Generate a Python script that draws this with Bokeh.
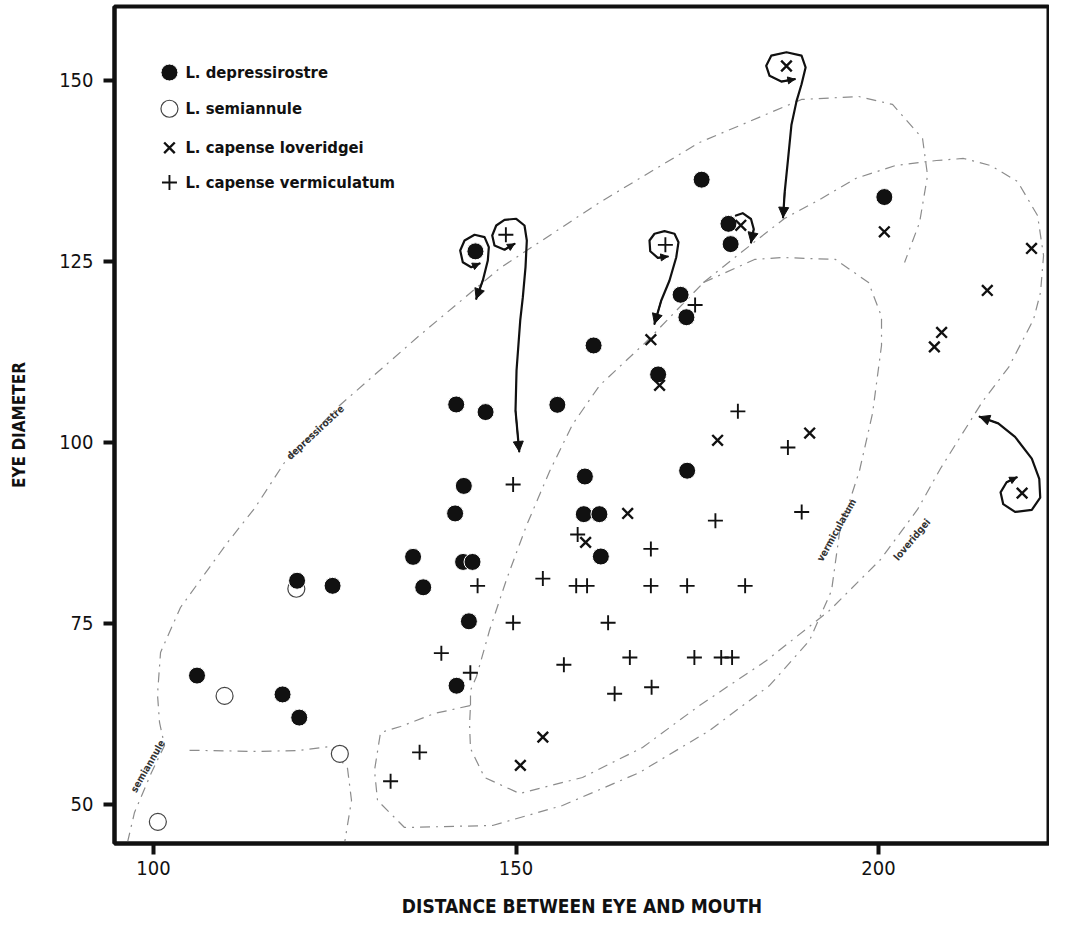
from bokeh.plotting import figure
from bokeh.models import Range1d, FixedTicker, Arrow, NormalHead
from bokeh.embed import file_html
from bokeh.resources import INLINE
from bokeh.core.properties import value

# ---------------- data ----------------
depressirostre_x = [106.0, 117.8, 120.1, 119.8, 124.7, 135.8, 137.2, 141.75, 145.8, 155.7,
                    160.7, 142.8, 141.6, 159.35, 161.5, 161.7, 142.7, 144.0, 143.5, 141.8,
                    159.5, 173.6, 169.6, 173.5, 172.7, 175.6, 179.3, 179.6, 200.8, 144.4]
depressirostre_y = [67.8, 65.2, 62.0, 80.9, 80.2, 84.2, 80.0, 105.25, 104.2, 105.2,
                    113.4, 94.0, 90.2, 90.1, 90.1, 84.25, 83.5, 83.5, 75.3, 66.4,
                    95.3, 96.1, 109.4, 117.3, 120.4, 136.3, 130.2, 127.4, 133.9, 126.4]

semiannule_x = [100.6, 109.8, 125.7, 119.7]
semiannule_y = [47.6, 65.0, 57.0, 79.8]

loveridgei_x = [153.7, 150.6, 159.6, 165.4, 169.8, 168.6, 177.8, 190.5, 181.0, 187.3,
                200.8, 208.7, 207.7, 215.0, 221.1, 219.8]
loveridgei_y = [59.3, 55.4, 86.2, 90.2, 107.9, 114.2, 100.3, 101.3, 130.0, 152.0,
                129.1, 115.2, 113.2, 121.0, 126.8, 93.0]

vermiculatum_x = [132.7, 136.7, 139.7, 143.7, 144.7, 149.6, 149.6, 153.7, 156.6, 158.5,
                  158.3, 159.8, 162.7, 163.6, 165.7, 168.6, 168.6, 168.7, 173.6, 174.6,
                  178.3, 179.8, 177.5, 181.6, 180.6, 187.5, 189.4, 174.7, 148.6, 170.6]
vermiculatum_y = [53.2, 57.2, 70.9, 68.2, 80.2, 94.2, 75.1, 81.2, 69.3, 87.3,
                  80.2, 80.2, 75.1, 65.3, 70.3, 85.3, 80.2, 66.2, 80.2, 70.3,
                  70.3, 70.3, 89.2, 80.2, 104.3, 99.3, 90.4, 119.0, 128.7, 127.3]

series_names = ["L. depressirostre", "L. semiannule", "L. capense loveridgei",
                "L. capense vermiculatum"]
x_ticks = [100, 150, 200]
y_ticks = [50, 75, 100, 125, 150]

# ---------------- hand-drawn enclosure outlines (data units) ----------------
outline_left_x = [96.41, 97.38, 99.72, 101.52, 100.83, 100.55, 100.97, 103.72, 110.21, 113.93,
                  118.07, 125.66, 136.69, 147.72, 161.52, 175.31, 189.38, 197.24, 201.93,
                  206.07, 206.76, 205.66, 203.59]
outline_left_y = [44.75, 48.90, 54.42, 58.15, 61.33, 65.19, 71.00, 77.21, 86.19, 90.88,
                  97.24, 105.11, 114.78, 124.03, 133.15, 141.44, 147.38, 147.79, 146.69,
                  141.99, 136.88, 130.39, 124.86]
outline_semi_x = [104.97, 107.03, 114.34, 120.14, 124.28, 126.76, 127.31, 126.34]
outline_semi_y = [57.46, 57.46, 57.32, 57.46, 58.01, 54.97, 50.55, 44.61]
outline_shared_x = [143.72, 143.72, 144.55, 146.34, 148.69, 151.45, 154.62, 157.79, 161.52,
                    168.00, 175.86]
outline_shared_y = [63.67, 65.75, 67.68, 74.03, 81.08, 88.54, 95.99, 102.49, 107.87,
                    113.95, 122.10]
outline_verm_x = [175.86, 182.90, 186.76, 194.07, 198.62, 200.41, 200.41, 199.17, 197.38,
                  194.62, 193.52, 190.48, 184.97, 176.69, 167.03, 156.41, 146.76, 134.62,
                  130.90, 130.48, 131.31, 134.07, 138.76, 143.72]
outline_verm_y = [122.10, 125.28, 125.55, 125.28, 122.10, 117.40, 113.40, 104.01, 96.13,
                  87.57, 79.56, 72.65, 66.44, 60.22, 54.42, 49.86, 47.10, 46.82,
                  50.55, 54.70, 59.94, 60.77, 62.57, 63.67]
outline_lov_x = [175.86, 183.31, 187.03, 192.14, 196.83, 202.34, 208.00, 211.72, 215.45,
                 219.17, 221.93, 222.76, 222.34, 221.38, 217.93, 214.34, 208.55, 205.38,
                 200.28, 193.24, 184.55, 175.31, 167.45, 159.17, 150.48, 145.66, 143.72,
                 143.59, 143.72]
outline_lov_y = [122.10, 128.04, 130.94, 133.70, 136.46, 138.26, 138.95, 139.23, 138.26,
                 136.05, 131.35, 125.83, 120.72, 116.99, 110.36, 105.66, 96.41, 90.75,
                 83.84, 76.80, 69.89, 63.67, 57.87, 53.73, 51.52, 53.73, 57.73,
                 61.05, 63.67]

outline_label_text = ["semiannule", "depressirostre", "vermiculatum", "loveridgei"]
outline_label_x = [99.2, 122.3, 194.2, 204.6]
outline_label_y = [55.3, 101.4, 87.9, 86.6]
outline_label_angle = [60, 43, 61, 50]

# ---------------- circled specimens with arrows (data units) ----------------
loops = [
    # circled dot
    ([144.97, 143.82, 142.66, 142.30, 142.90, 144.28, 145.66, 146.25, 146.11, 145.42, 144.51],
     [124.72, 124.21, 124.90, 126.52, 127.90, 128.69, 128.36, 126.98, 125.14, 122.38, 119.85], True),
    # circled plus (left)
    ([149.79, 148.41, 147.03, 146.72, 147.27, 148.41, 150.03, 151.17, 151.49, 151.31, 150.94,
      150.58, 150.07, 149.93, 150.44],
     [127.44, 126.62, 127.21, 128.59, 129.97, 130.76, 130.90, 129.97, 127.90, 124.21, 120.07,
      116.85, 109.94, 104.42, 98.76], True),
    # circled plus (middle)
    ([170.94, 169.56, 168.51, 168.41, 169.10, 170.48, 171.86, 172.41, 172.10, 171.17, 170.03, 169.10],
     [125.69, 125.51, 126.42, 127.90, 128.83, 129.19, 128.83, 127.67, 125.59, 122.38, 119.61, 116.39], True),
    # small curl near x
    ([180.33, 181.26, 182.41, 182.79, 182.41],
     [131.34, 131.67, 130.87, 129.47, 127.62], False),
    # circled x (top)
    ([188.46, 186.59, 184.97, 184.51, 185.20, 187.30, 189.38, 189.94, 189.38, 188.69, 187.99,
      187.53, 187.06, 186.83],
     [150.18, 149.85, 150.64, 152.03, 153.43, 153.90, 153.43, 151.81, 149.48, 147.15, 143.90,
      139.25, 134.60, 131.10], True),
    # circled x (right)
    ([219.06, 217.66, 216.83, 217.20, 218.83, 221.14, 222.30, 222.17, 221.14, 218.83, 216.51, 213.95],
     [95.19, 94.50, 93.11, 91.48, 90.41, 90.69, 92.40, 94.96, 97.76, 100.77, 102.64, 103.56], True),
]

# ---------------- legend placement ----------------
legend_marker_x = 102.2
legend_text_x = 104.4
legend_row_y = [151.1, 146.1, 140.7, 135.9]

FONT = "'DejaVu Sans Condensed', 'DejaVu Sans', sans-serif"
INK = "#111111"

p = figure(width=1049, height=919, output_backend="svg", toolbar_location=None,
           x_range=Range1d(94.62, 223.58), y_range=Range1d(44.61, 160.22),
           min_border_left=114, min_border_right=0, min_border_top=6, min_border_bottom=76)
p.grid.visible = False
p.background_fill_color = "white"
p.border_fill_color = "white"
p.outline_line_color = INK
p.outline_line_width = 4

p.xaxis.ticker = FixedTicker(ticks=x_ticks)
p.yaxis.ticker = FixedTicker(ticks=y_ticks)
for ax in (p.xaxis[0], p.yaxis[0]):
    ax.major_tick_in = 0
    ax.major_tick_out = 11
    ax.major_tick_line_width = 4
    ax.major_tick_line_color = INK
    ax.minor_tick_line_color = None
    ax.axis_line_width = 4
    ax.axis_line_color = INK
    ax.major_label_text_font = FONT
    ax.major_label_text_font_size = "20px"
    ax.major_label_text_color = INK
    ax.axis_label_text_font = FONT
    ax.axis_label_text_font_style = "bold"
    ax.axis_label_text_color = INK
p.xaxis.axis_label = "DISTANCE BETWEEN EYE AND MOUTH"
p.yaxis.axis_label = "EYE DIAMETER"
p.xaxis.axis_label_text_font_size = "19px"
p.yaxis.axis_label_text_font_size = "17px"
p.xaxis.major_label_standoff = 6
p.yaxis.major_label_standoff = 10
p.xaxis.axis_label_standoff = 17
p.yaxis.axis_label_standoff = 27

# enclosure outlines
OUT_STYLE = dict(line_color="#8c8c8c", line_width=1.2, line_dash="10 6 2 6", line_join="round")
for xs, ys in [(outline_left_x, outline_left_y), (outline_semi_x, outline_semi_y),
               (outline_shared_x, outline_shared_y), (outline_verm_x, outline_verm_y),
               (outline_lov_x, outline_lov_y)]:
    p.line(xs, ys, **OUT_STYLE)

p.text(x=outline_label_x, y=outline_label_y, text=outline_label_text,
       angle=outline_label_angle, angle_units="deg",
       text_font=value(FONT), text_font_size="10px", text_font_style="bold",
       text_color="#333333", text_align="center", text_baseline="middle")

# circled specimens / arrows
for xs, ys, hook in loops:
    p.line(xs, ys, line_color=INK, line_width=2.2, line_join="round", line_cap="round")
    p.add_layout(Arrow(end=NormalHead(size=10, fill_color=INK, line_color=INK, line_width=1),
                       x_start=xs[-2], y_start=ys[-2], x_end=xs[-1], y_end=ys[-1],
                       line_color=INK, line_width=1.5))
    if hook:
        p.add_layout(Arrow(end=NormalHead(size=7, fill_color=INK, line_color=INK, line_width=1),
                           x_start=xs[1], y_start=ys[1], x_end=xs[0], y_end=ys[0],
                           line_color=INK, line_width=1.5))

# specimens
p.scatter(semiannule_x, semiannule_y, marker="circle", size=17,
          fill_color="white", line_color="#444444", line_width=1.2)
p.scatter(depressirostre_x, depressirostre_y, marker="circle", size=17,
          fill_color=INK, line_color="white", line_width=1)
p.scatter(vermiculatum_x, vermiculatum_y, marker="cross", size=15,
          line_color=INK, line_width=1.9)
p.scatter(loveridgei_x, loveridgei_y, marker="x", size=15,
          line_color=INK, line_width=2.4)

# legend (drawn in the plot area, top left)
p.scatter([legend_marker_x], [legend_row_y[0]], marker="circle", size=17,
          fill_color=INK, line_color="white", line_width=1)
p.scatter([legend_marker_x], [legend_row_y[1]], marker="circle", size=17,
          fill_color="white", line_color="#444444", line_width=1.2)
p.scatter([legend_marker_x], [legend_row_y[2]], marker="x", size=15,
          line_color=INK, line_width=2.4)
p.scatter([legend_marker_x], [legend_row_y[3]], marker="cross", size=15,
          line_color=INK, line_width=1.9)
p.text(x=[legend_text_x] * 4, y=legend_row_y, text=series_names,
       text_font=value(FONT), text_font_size="16.5px", text_font_style="bold",
       text_color=INK, text_align="left", text_baseline="middle")

open("out.html", "w").write(file_html(p, INLINE))
